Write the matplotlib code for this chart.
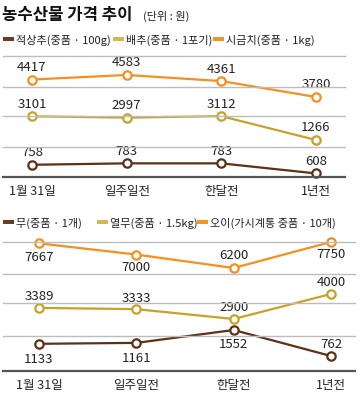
import matplotlib
matplotlib.use("Agg")
import matplotlib.pyplot as plt
from matplotlib.lines import Line2D
from matplotlib.patches import Rectangle
from matplotlib import transforms

plt.rcParams['font.family'] = ['Noto Sans CJK KR', 'DejaVu Sans']

# 데이터
periods = ['1월 31일', '일주일전', '한달전', '1년전']

lettuce = [758, 783, 783, 608]        # 적상추(중품 · 100g)
cabbage = [3101, 2997, 3112, 1266]    # 배추(중품 · 1포기)
spinach = [4417, 4583, 4361, 3780]    # 시금치(중품 · 1kg)

radish = [1133, 1161, 1552, 762]      # 무(중품 · 1개)
young_radish = [3389, 3333, 2900, 4000]  # 열무(중품 · 1.5kg)
cucumber = [7667, 7000, 6200, 7750]   # 오이(가시계통 중품 · 10개)

top_names = ['적상추(중품 · 100g)', '배추(중품 · 1포기)', '시금치(중품 · 1kg)']
bottom_names = ['무(중품 · 1개)', '열무(중품 · 1.5kg)', '오이(가시계통 중품 · 10개)']

BROWN = '#5E3016'
YELLOW = '#C6A226'
ORANGE = '#F5901E'
SW_BROWN = '#6E3B1C'
SW_YELLOW = '#D6B650'
SW_ORANGE = '#F5941E'
TXT = '#222222'

W, H = 360, 406
fig = plt.figure(figsize=(W / 100, H / 100), dpi=100)


def fx(px):
    return px / W


def fy(py):
    return 1 - py / H


def hline(y, x0, x1, color, lw):
    fig.add_artist(Line2D([fx(x0), fx(x1)], [fy(y), fy(y)], color=color, lw=lw,
                          transform=fig.transFigure))


def legend_row(y, xs, names, colors):
    for x, name, c in zip(xs, names, colors):
        fig.add_artist(Rectangle((fx(x), fy(y + 2)), fx(11), 4 / H, color=c,
                                 transform=fig.transFigure, lw=0))
        fig.text(fx(x + 13), fy(y), name, fontsize=8, color=TXT, va='center', ha='left')


def panel(top, bottom, xlim, series, ylims, offsets, x_lbl_y):
    rect = [0, fy(bottom), 1, (bottom - top) / H]
    first = None
    for (vals, color), ylim, offs in zip(series, ylims, offsets):
        ax = fig.add_axes(rect)
        ax.set_axis_off()
        ax.patch.set_alpha(0)
        ax.set_xlim(*xlim)
        ax.set_ylim(*ylim)
        ax.plot(range(len(vals)), vals, color=color, lw=1.6, marker='o', ms=6,
                mfc='white', mec=color, mew=1.6, clip_on=False, zorder=3)
        for i, (v, off) in enumerate(zip(vals, offs)):
            ax.annotate(str(v), (i, v), xytext=(0, off), textcoords='offset pixels',
                        ha='center', va='center', fontsize=9.5, color=TXT)
        if first is None:
            first = ax
    tr = transforms.blended_transform_factory(first.transData, fig.transFigure)
    for i, p in enumerate(periods):
        first.text(i, fy(x_lbl_y), p, transform=tr, ha='center', va='center',
                   fontsize=9, color=TXT)


# 제목
fig.text(fx(2), fy(15), '농수산물 가격 추이', fontsize=12, fontweight='bold',
         color='#111111', va='center', ha='left')
fig.text(fx(143), fy(16), '(단위 : 원)', fontsize=8, color=TXT, va='center', ha='left')

# 상단 패널
legend_row(40, [3, 113, 213], top_names, [SW_BROWN, SW_YELLOW, SW_ORANGE])
for y in [57, 88, 117, 148]:
    hline(y, 3, 345, '#BDBDBD', 1.0)
hline(178, 3, 345, '#555555', 1.6)
panel(57, 178, (-0.338, 3.465),
      [(lettuce, BROWN), (cabbage, YELLOW), (spinach, ORANGE)],
      [(546, 2646), (-1598, 7767), (860, 5276)],
      [[13] * 4, [13] * 4, [13] * 4],
      191)

# 하단 패널
legend_row(223, [3, 97, 197], bottom_names, [SW_BROWN, SW_YELLOW, SW_ORANGE])
for y in [243, 275, 304, 337]:
    hline(y, 3, 355, '#BDBDBD', 1.0)
hline(372, 3, 355, '#555555', 1.6)
panel(243, 372, (-0.4007, 3.298),
      [(radish, BROWN), (young_radish, YELLOW), (cucumber, ORANGE)],
      [(306, 4228), (612, 6288), (61, 7749)],
      [[-15, -15, -13, 13], [12, 12, 12, 12], [-13, -12, 13, -12]],
      386)

fig.savefig('out.png', dpi=100, facecolor='white')
